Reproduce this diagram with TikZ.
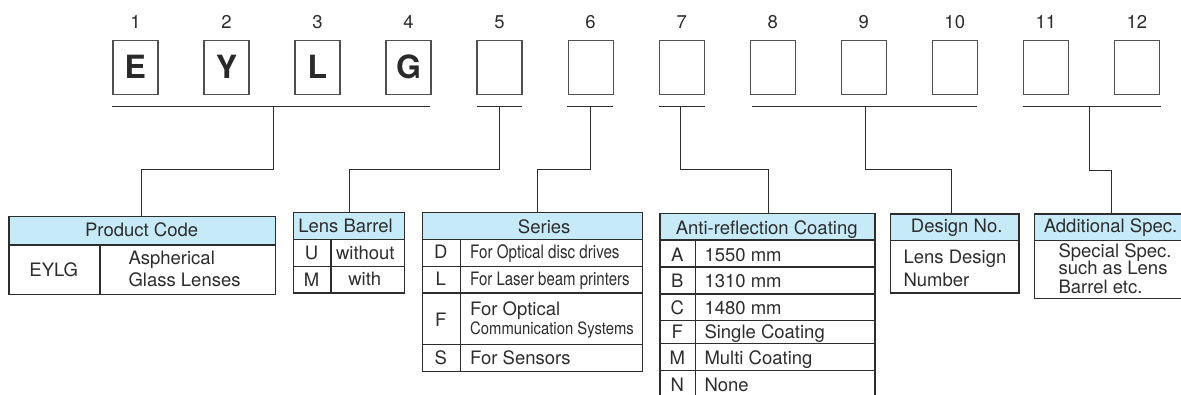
\documentclass[tikz,border=0pt]{standalone}
\usepackage{fontspec}
\setmainfont{TeX Gyre Heros}
\usepackage{graphicx}
\usetikzlibrary{calc}
\definecolor{ink}{RGB}{45,45,45}
\definecolor{boxline}{RGB}{80,80,80}
\definecolor{hdr}{RGB}{198,234,248}
\tikzset{
 digitbox/.style={draw=boxline, line width=1.2pt, minimum width=45pt, minimum height=54pt, inner sep=0pt, font=\fontsize{32}{32}\selectfont\bfseries, text=ink!90!black, text height=23pt, text depth=0pt},
 numlbl/.style={inner sep=0pt, font=\fontsize{18.5}{20}\selectfont, text=ink, text height=13.3pt, text depth=0pt},
 cell/.style={draw=ink, line width=1.3pt, inner sep=0pt, anchor=north west},
 hcell/.style={cell, fill=hdr},
 txt/.style={inner sep=0pt, font=\fontsize{18.5}{20}\selectfont, text=ink, text height=13.3pt, text depth=0pt},
 ltxt/.style={txt, anchor=west},
 conn/.style={draw=ink, line width=1pt},
}
\begin{document}
\begin{tikzpicture}[x=1pt,y=-1pt]
\useasboundingbox (0,0) rectangle (1181,394);
% top code boxes and numbers
\foreach \i/\t in {1/E,2/Y,3/L,4/G,5/,6/,7/,8/,9/,10/,11/,12/}{
  \node[digitbox] (b\i) at ({135.4+(\i-1)*91.04},67.3) {\t};
  \node[numlbl] (n\i) at ({135.4+(\i-1)*91.04},22) {\i};
}
% bracket coordinates
\coordinate (g1a) at (111.7,106.3); \coordinate (g1b) at (429.8,106.3); \coordinate (g1m) at (273.2,106.3);
\coordinate (g5a) at (476.8,106.3); \coordinate (g5b) at (522,106.3); \coordinate (g5m) at (499.4,106.3);
\coordinate (g6a) at (567,106.3); \coordinate (g6b) at (613,106.3); \coordinate (g6m) at (590.3,106.3);
\coordinate (g7a) at (659.3,106.3); \coordinate (g7b) at (705,106.3); \coordinate (g7m) at (680.8,106.3);
\coordinate (g8a) at (752,106.3); \coordinate (g8b) at (977,106.3); \coordinate (g8m) at (865.5,106.3);
\coordinate (g11a) at (1022.7,106.3); \coordinate (g11b) at (1160.7,106.3); \coordinate (g11m) at (1089.5,106.3);
\foreach \g in {g1,g5,g6,g7,g8,g11}{ \draw[conn] (\g a) -- (\g b); }

% ---- Table 1: Product Code
\node[hcell, minimum width=266.7pt, minimum height=28.3pt] (t1h) at (8.3,216) {};
\node[cell, minimum width=91pt, minimum height=49.7pt] (t1a) at (8.3,244.3) {};
\node[cell, minimum width=175.7pt, minimum height=49.7pt] (t1b) at (99.3,244.3) {};
\node[txt] (t1ht) at (141.6,229.7) {Product Code};
\node[txt] (t1at) at (53.8,270.3) {EYLG};
\node[ltxt] (t1b1) at (128.3,258.3) {Aspherical};
\node[ltxt] (t1b2) at (128.3,280) {Glass Lenses};
\coordinate (t1in) at (141.3,216);

% ---- Table 2: Lens Barrel
\node[hcell, minimum width=111pt, minimum height=27pt] (t2h) at (292.7,212) {};
\node[cell, minimum width=37.6pt, minimum height=27pt] (t2ua) at (292.7,239) {};
\node[cell, minimum width=73.4pt, minimum height=27pt] (t2ub) at (330.3,239) {};
\node[cell, minimum width=37.6pt, minimum height=26.3pt] (t2ma) at (292.7,266) {};
\node[cell, minimum width=73.4pt, minimum height=26.3pt] (t2mb) at (330.3,266) {};
\node[txt] (t2ht) at (345.5,225.7) {Lens Barrel};
\node[txt] (t2u) at (311.5,253) {U};
\node[txt] (t2ut) at (365.3,252.5) {without};
\node[txt] (t2m) at (311.5,279.7) {M};
\node[txt] (t2mt) at (364.7,279.3) {with};
\coordinate (t2in) at (349.3,212);

% ---- Table 3: Series
\node[hcell, minimum width=219.7pt, minimum height=27pt] (t3h) at (422,212) {};
\node[cell, minimum width=37.7pt, minimum height=26.7pt] (t3da) at (422,239) {};
\node[cell, minimum width=182pt, minimum height=26.7pt] (t3db) at (459.7,239) {};
\node[cell, minimum width=37.7pt, minimum height=26.6pt] (t3la) at (422,265.7) {};
\node[cell, minimum width=182pt, minimum height=26.6pt] (t3lb) at (459.7,265.7) {};
\node[cell, minimum width=37.7pt, minimum height=51.7pt] (t3fa) at (422,292.3) {};
\node[cell, minimum width=182pt, minimum height=51.7pt] (t3fb) at (459.7,292.3) {};
\node[cell, minimum width=37.7pt, minimum height=26.7pt] (t3sa) at (422,344) {};
\node[cell, minimum width=182pt, minimum height=26.7pt] (t3sb) at (459.7,344) {};
\node[txt] (t3ht) at (544.2,226.7) {Series};
\node[txt] (t3d) at (440.8,251.7) {D};
\node[txt] (t3l) at (440.8,278.7) {L};
\node[txt] (t3f) at (440.8,320) {F};
\node[txt] (t3s) at (440.8,358.3) {S};
\node[ltxt] (t3dt) at (470,251.7) {\scalebox{0.82}[1]{For Optical disc drives}};
\node[ltxt] (t3lt) at (470,278.7) {\scalebox{0.81}[1]{For Laser beam printers}};
\node[ltxt] (t3ft1) at (470,309.3) {For Optical};
\node[ltxt, font=\fontsize{17}{18}\selectfont, text height=12.2pt] (t3ft2) at (470,328.3) {\scalebox{0.873}[1]{Communication Systems}};
\node[ltxt] (t3st) at (470,358.3) {For Sensors};
\coordinate (t3in) at (537,212);

% ---- Table 4: Anti-reflection Coating
\node[hcell, minimum width=215pt, minimum height=26.6pt] (t4h) at (659.3,212.7) {};
\foreach \n/\y/\h in {a/239.3/27, b/266.3/27, c/293.3/26.7, f/320/23, m/343/27, x/370/27}{
  \node[cell, minimum width=35.7pt, minimum height=\h pt] (t4\n l) at (659.3,\y) {};
  \node[cell, minimum width=179.3pt, minimum height=\h pt] (t4\n r) at (695,\y) {};
}
\node[txt] (t4ht) at (766.7,228.3) {Anti-reflection Coating};
\foreach \n/\l/\t/\y in {a/A/1550 mm/254.5, b/B/1310 mm/281.2, c/C/1480 mm/307.5, f/F/Single Coating/332, m/M/Multi Coating/357.7, x/N/None/384.5}{
  \node[txt] (t4\n k) at (677.2,\y) {\l};
  \node[ltxt] (t4\n t) at (704.3,\y) {\t};
}
\coordinate (t4in) at (768.3,212.7);

% ---- Table 5: Design No.
\node[hcell, minimum width=128.3pt, minimum height=26.7pt] (t5h) at (890,213.3) {};
\node[cell, minimum width=128.3pt, minimum height=52.3pt] (t5b) at (890,240) {};
\node[txt] (t5ht) at (956.7,225.5) {Design No.};
\node[ltxt] (t5b1) at (903.3,256.7) {Lens Design};
\node[ltxt] (t5b2) at (903.3,280) {Number};
\coordinate (t5in) at (951,213.3);

% ---- Table 6: Additional Spec.
\node[hcell, minimum width=146.8pt, minimum height=26.7pt] (t6h) at (1033.7,213.3) {};
\node[cell, minimum width=146.8pt, minimum height=58pt] (t6b) at (1033.7,240) {};
\node[txt] (t6ht) at (1110.5,225.5) {Additional Spec.};
\node[ltxt] (t6b1) at (1058.3,250.8) {Special Spec.};
\node[ltxt] (t6b2) at (1058.3,268.3) {such as Lens};
\node[ltxt] (t6b3) at (1058.3,287.3) {Barrel etc.};
\coordinate (t6in) at (1111.7,213.3);

% ---- connectors
\draw[conn] (g1m) -- ++(0,63) -| (t1in);
\draw[conn] (g5m) -- ++(0,63) -| (t2in);
\draw[conn] (g6m) -- ++(0,63) -| (t3in);
\draw[conn] (g7m) -- ++(0,63.5) -| (t4in);
\draw[conn] (g8m) -- ++(0,63.5) -| (t5in);
\draw[conn] (g11m) -- ++(0,64) -| (t6in);
\end{tikzpicture}
\end{document}
